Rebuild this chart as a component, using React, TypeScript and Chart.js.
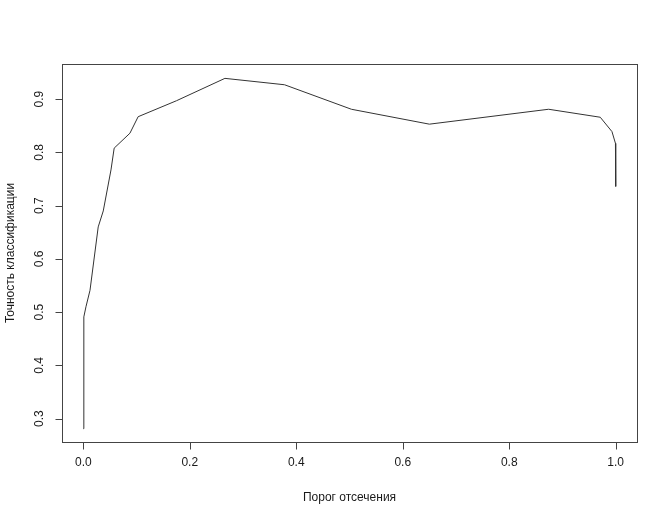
import React, { useEffect, useRef } from "react";
import { Chart, registerables } from "chart.js";

Chart.register(...registerables);

const thresholds = [0, 0.001, 0.005, 0.0126, 0.028, 0.0375, 0.052, 0.058, 0.0876, 0.103, 0.175, 0.266, 0.378, 0.5036, 0.65, 0.874, 0.971, 0.993, 0.9995, 1.0];
const accuracy = [0.281, 0.491, 0.51, 0.541, 0.66, 0.69, 0.767, 0.808, 0.836, 0.867, 0.897, 0.939, 0.927, 0.881, 0.853, 0.881, 0.866, 0.839, 0.817, 0.736];
const xTicks = [0, 0.2, 0.4, 0.6, 0.8, 1.0];
const yTicks = [0.3, 0.4, 0.5, 0.6, 0.7, 0.8, 0.9];
const xTitle = "Порог отсечения";
const yTitle = "Точность классификации";

const FONT = '12px "Liberation Sans", Arial, sans-serif';

const rPlot = {
  id: "rPlot",
  afterDraw(chart: any) {
    const { ctx, chartArea } = chart;
    const { left, right, top, bottom } = chartArea;
    const xs = chart.scales.x;
    const ys = chart.scales.y;
    ctx.save();
    ctx.strokeStyle = "#444";
    ctx.lineWidth = 1;
    ctx.strokeRect(Math.round(left) + 0.5, Math.round(top) + 0.5, Math.round(right - left), Math.round(bottom - top));
    ctx.fillStyle = "#1a1a1a";
    ctx.font = FONT;
    // x ticks
    ctx.textAlign = "center";
    ctx.textBaseline = "middle";
    const bx = Math.round(bottom) + 0.5;
    ctx.beginPath();
    const x0 = xs.getPixelForValue(xTicks[0]);
    const x1 = xs.getPixelForValue(xTicks[xTicks.length - 1]);
    ctx.moveTo(Math.round(x0) + 0.5, bx);
    ctx.lineTo(Math.round(x1) + 0.5, bx);
    xTicks.forEach((v) => {
      const px = Math.round(xs.getPixelForValue(v)) + 0.5;
      ctx.moveTo(px, bx);
      ctx.lineTo(px, bx + 7);
    });
    ctx.stroke();
    xTicks.forEach((v) => {
      const px = xs.getPixelForValue(v);
      ctx.fillText(v.toFixed(1), px, bottom + 21);
    });
    ctx.fillText(xTitle, (xs.getPixelForValue(0) + xs.getPixelForValue(1)) / 2, bottom + 56);
    // y ticks
    const lx = Math.round(left) + 0.5;
    ctx.beginPath();
    const y0 = ys.getPixelForValue(yTicks[0]);
    const y1 = ys.getPixelForValue(yTicks[yTicks.length - 1]);
    ctx.moveTo(lx, Math.round(y0) + 0.5);
    ctx.lineTo(lx, Math.round(y1) + 0.5);
    yTicks.forEach((v) => {
      const py = Math.round(ys.getPixelForValue(v)) + 0.5;
      ctx.moveTo(lx, py);
      ctx.lineTo(lx - 7, py);
    });
    ctx.stroke();
    yTicks.forEach((v) => {
      const py = ys.getPixelForValue(v);
      ctx.save();
      ctx.translate(left - 22, py);
      ctx.rotate(-Math.PI / 2);
      ctx.fillText(v.toFixed(1), 0, 0);
      ctx.restore();
    });
    ctx.save();
    ctx.translate(left - 51, (top + bottom) / 2);
    ctx.rotate(-Math.PI / 2);
    ctx.fillText(yTitle, 0, 0);
    ctx.restore();
    ctx.restore();
  },
};

export default function App() {
  const ref = useRef<HTMLCanvasElement | null>(null);
  useEffect(() => {
    document.body.style.margin = "0";
    document.body.style.background = "#fff";
    if (!ref.current) return;
    const chart = new Chart(ref.current, {
      type: "line",
      data: {
        datasets: [
          {
            data: thresholds.map((x, i) => ({ x, y: accuracy[i] })),
            borderColor: "#333",
            borderWidth: 1,
            pointRadius: 0,
            tension: 0,
            fill: false,
          },
        ],
      },
      options: {
        animation: false,
        responsive: false,
        devicePixelRatio: 1,
        layout: { padding: { left: 62, top: 64, right: 32, bottom: 81 } },
        plugins: { legend: { display: false }, tooltip: { enabled: false }, title: { display: false } },
        scales: {
          x: {
            type: "linear",
            min: -0.04,
            max: 1.04,
            display: false,
            afterBuildTicks: (s: any) => {
              s.ticks = xTicks.map((v) => ({ value: v }));
            },
          },
          y: {
            type: "linear",
            min: 0.256,
            max: 0.966,
            display: false,
            afterBuildTicks: (s: any) => {
              s.ticks = yTicks.map((v) => ({ value: v }));
            },
          },
        },
      },
      plugins: [rPlot],
    });
    return () => chart.destroy();
  }, []);
  return <canvas ref={ref} width={669} height={523} style={{ display: "block" }} />;
}
